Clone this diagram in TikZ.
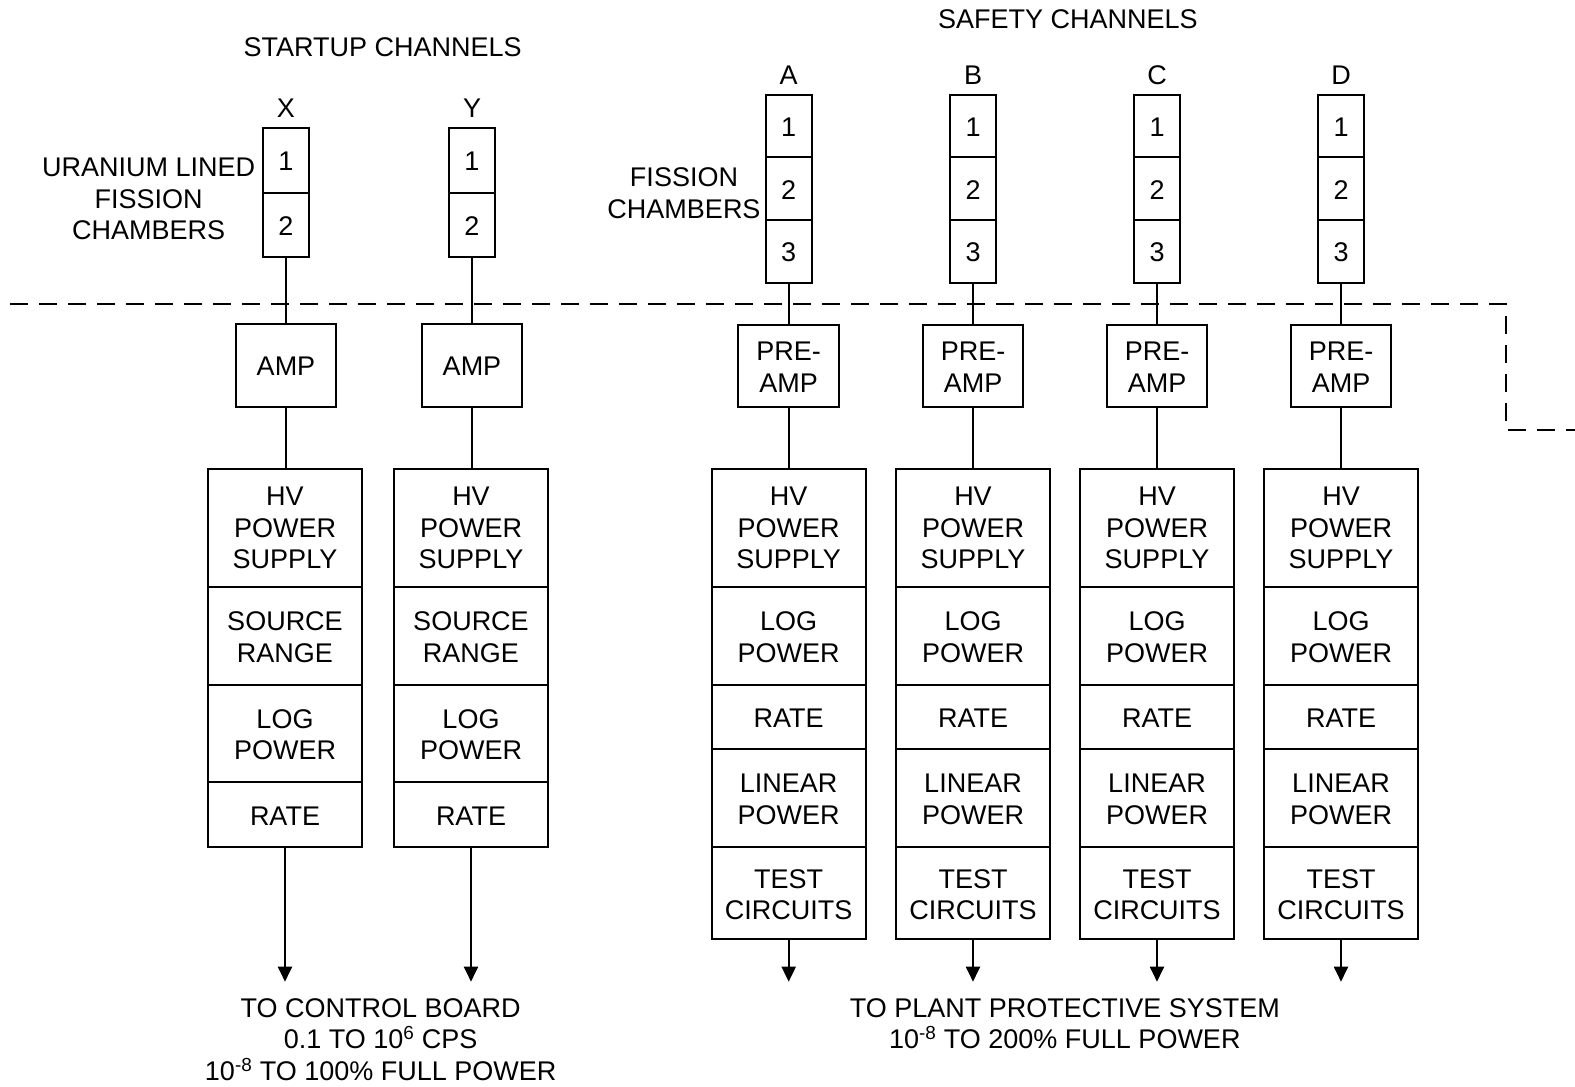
\documentclass[tikz,border=0pt]{standalone}
\usepackage{fontspec}
\setmainfont{Liberation Sans}
\usetikzlibrary{arrows.meta}
\begin{document}
\begin{tikzpicture}[x=1pt,y=-1pt,
  every node/.style={font=\fontsize{27}{31.6}\selectfont, inner sep=0pt, align=center},
  box/.style={draw, line width=2pt, minimum width=#1, text depth=0pt},
  txtdown/.style={yshift=-2.5pt},
  ln/.style={line width=2pt},
  dashln/.style={line width=2pt, dash pattern=on 18pt off 11pt},
  arr/.style={line width=2pt, -{Triangle[width=14pt,length=15pt]}}]
\useasboundingbox[fill=white] (0,0) rectangle (1575,1087);

% titles
\node (tstart) at (382.7,47.2) {STARTUP CHANNELS};
\node (tsafe) at (1067.8,19.5) {SAFETY CHANNELS};
\node (tulfc) at (148.7,199) {URANIUM LINED\\FISSION\\CHAMBERS};
\node (tfc) at (684,193.4) {FISSION\\CHAMBERS};

% boundary
\coordinate (d1) at (10,304);
\coordinate (d2) at (1505.7,304);
\coordinate (d3) at (1505.7,430);
\coordinate (d4) at (1575,430);
\draw[dashln] (d1) -- (d2) -- (d3) -- (d4);

% startup channels
\foreach \n/\cx in {X/286,Y/472} {
  \node (lab\n) at (\cx,108) {\n};
  \node[box=46pt, minimum height=64.2pt] (c\n1) at (\cx,160.4) {\raisebox{-2pt}{1}};
  \node[box=46pt, minimum height=64.2pt] (c\n2) at (\cx,224.6) {\raisebox{-2pt}{2}};
  \node[box=100.3pt, minimum height=82.4pt] (amp\n) at (\cx,365.5) {\raisebox{-2pt}{AMP}};
  \node[box=154pt, minimum height=117.7pt] (hv\n) at (\cx-1,527.85) {HV\\POWER\\SUPPLY};
  \node[box=154pt, minimum height=98.3pt] (sr\n) at (\cx-1,635.85) {\raisebox{-2.5pt}{SOURCE}\\\raisebox{-2.5pt}{RANGE}};
  \node[box=154pt, minimum height=97pt] (lp\n) at (\cx-1,733.5) {\raisebox{-2.5pt}{LOG}\\\raisebox{-2.5pt}{POWER}};
  \node[box=154pt, minimum height=65.3pt] (rt\n) at (\cx-1,814.65) {\raisebox{-2.5pt}{RATE}};
  \coordinate (out\n) at (\cx-1,981.7);
  \draw[ln] (c\n2.south) -- (amp\n.north);
  \draw[ln] (amp\n.south) -- (hv\n.north -| amp\n.south);
  \draw[arr] (rt\n.south) -- (out\n);
}

% safety channels
\foreach \n/\cx in {A/788.7,B/973,C/1157,D/1341} {
  \node (lab\n) at (\cx,75.3) {\n};
  \node[box=46pt, minimum height=62.8pt] (c\n1) at (\cx,125.9) {\raisebox{-2pt}{1}};
  \node[box=46pt, minimum height=62.8pt] (c\n2) at (\cx,188.7) {\raisebox{-2pt}{2}};
  \node[box=46pt, minimum height=62.8pt] (c\n3) at (\cx,251.5) {\raisebox{-2pt}{3}};
  \node[box=100.7pt, minimum height=81.7pt] (pre\n) at (\cx,366) {\raisebox{-2pt}{PRE-}\\\raisebox{-2pt}{AMP}};
  \node[box=154pt, minimum height=117.7pt] (hv\n) at (\cx,527.85) {HV\\POWER\\SUPPLY};
  \node[box=154pt, minimum height=98.3pt] (lp\n) at (\cx,635.85) {\raisebox{-2.5pt}{LOG}\\\raisebox{-2.5pt}{POWER}};
  \node[box=154pt, minimum height=63.7pt] (rt\n) at (\cx,716.85) {\raisebox{-2.5pt}{RATE}};
  \node[box=154pt, minimum height=98.6pt] (li\n) at (\cx,798) {\raisebox{-2.5pt}{LINEAR}\\\raisebox{-2.5pt}{POWER}};
  \node[box=154pt, minimum height=91.7pt] (ts\n) at (\cx,893.15) {\raisebox{-2.5pt}{TEST}\\\raisebox{-2.5pt}{CIRCUITS}};
  \coordinate (out\n) at (\cx,981.7);
  \draw[ln] (c\n3.south) -- (pre\n.north);
  \draw[ln] (pre\n.south) -- (hv\n.north);
  \draw[arr] (ts\n.south) -- (out\n);
}

% bottom labels
\node (bl) at (380.7,1039.6) {TO CONTROL BOARD\\0.1 TO 10\textsuperscript{6} CPS\\10\textsuperscript{-8} TO 100\% FULL POWER};
\node (br) at (1064.8,1023.5) {TO PLANT PROTECTIVE SYSTEM\\10\textsuperscript{-8} TO 200\% FULL POWER};
\end{tikzpicture}
\end{document}
